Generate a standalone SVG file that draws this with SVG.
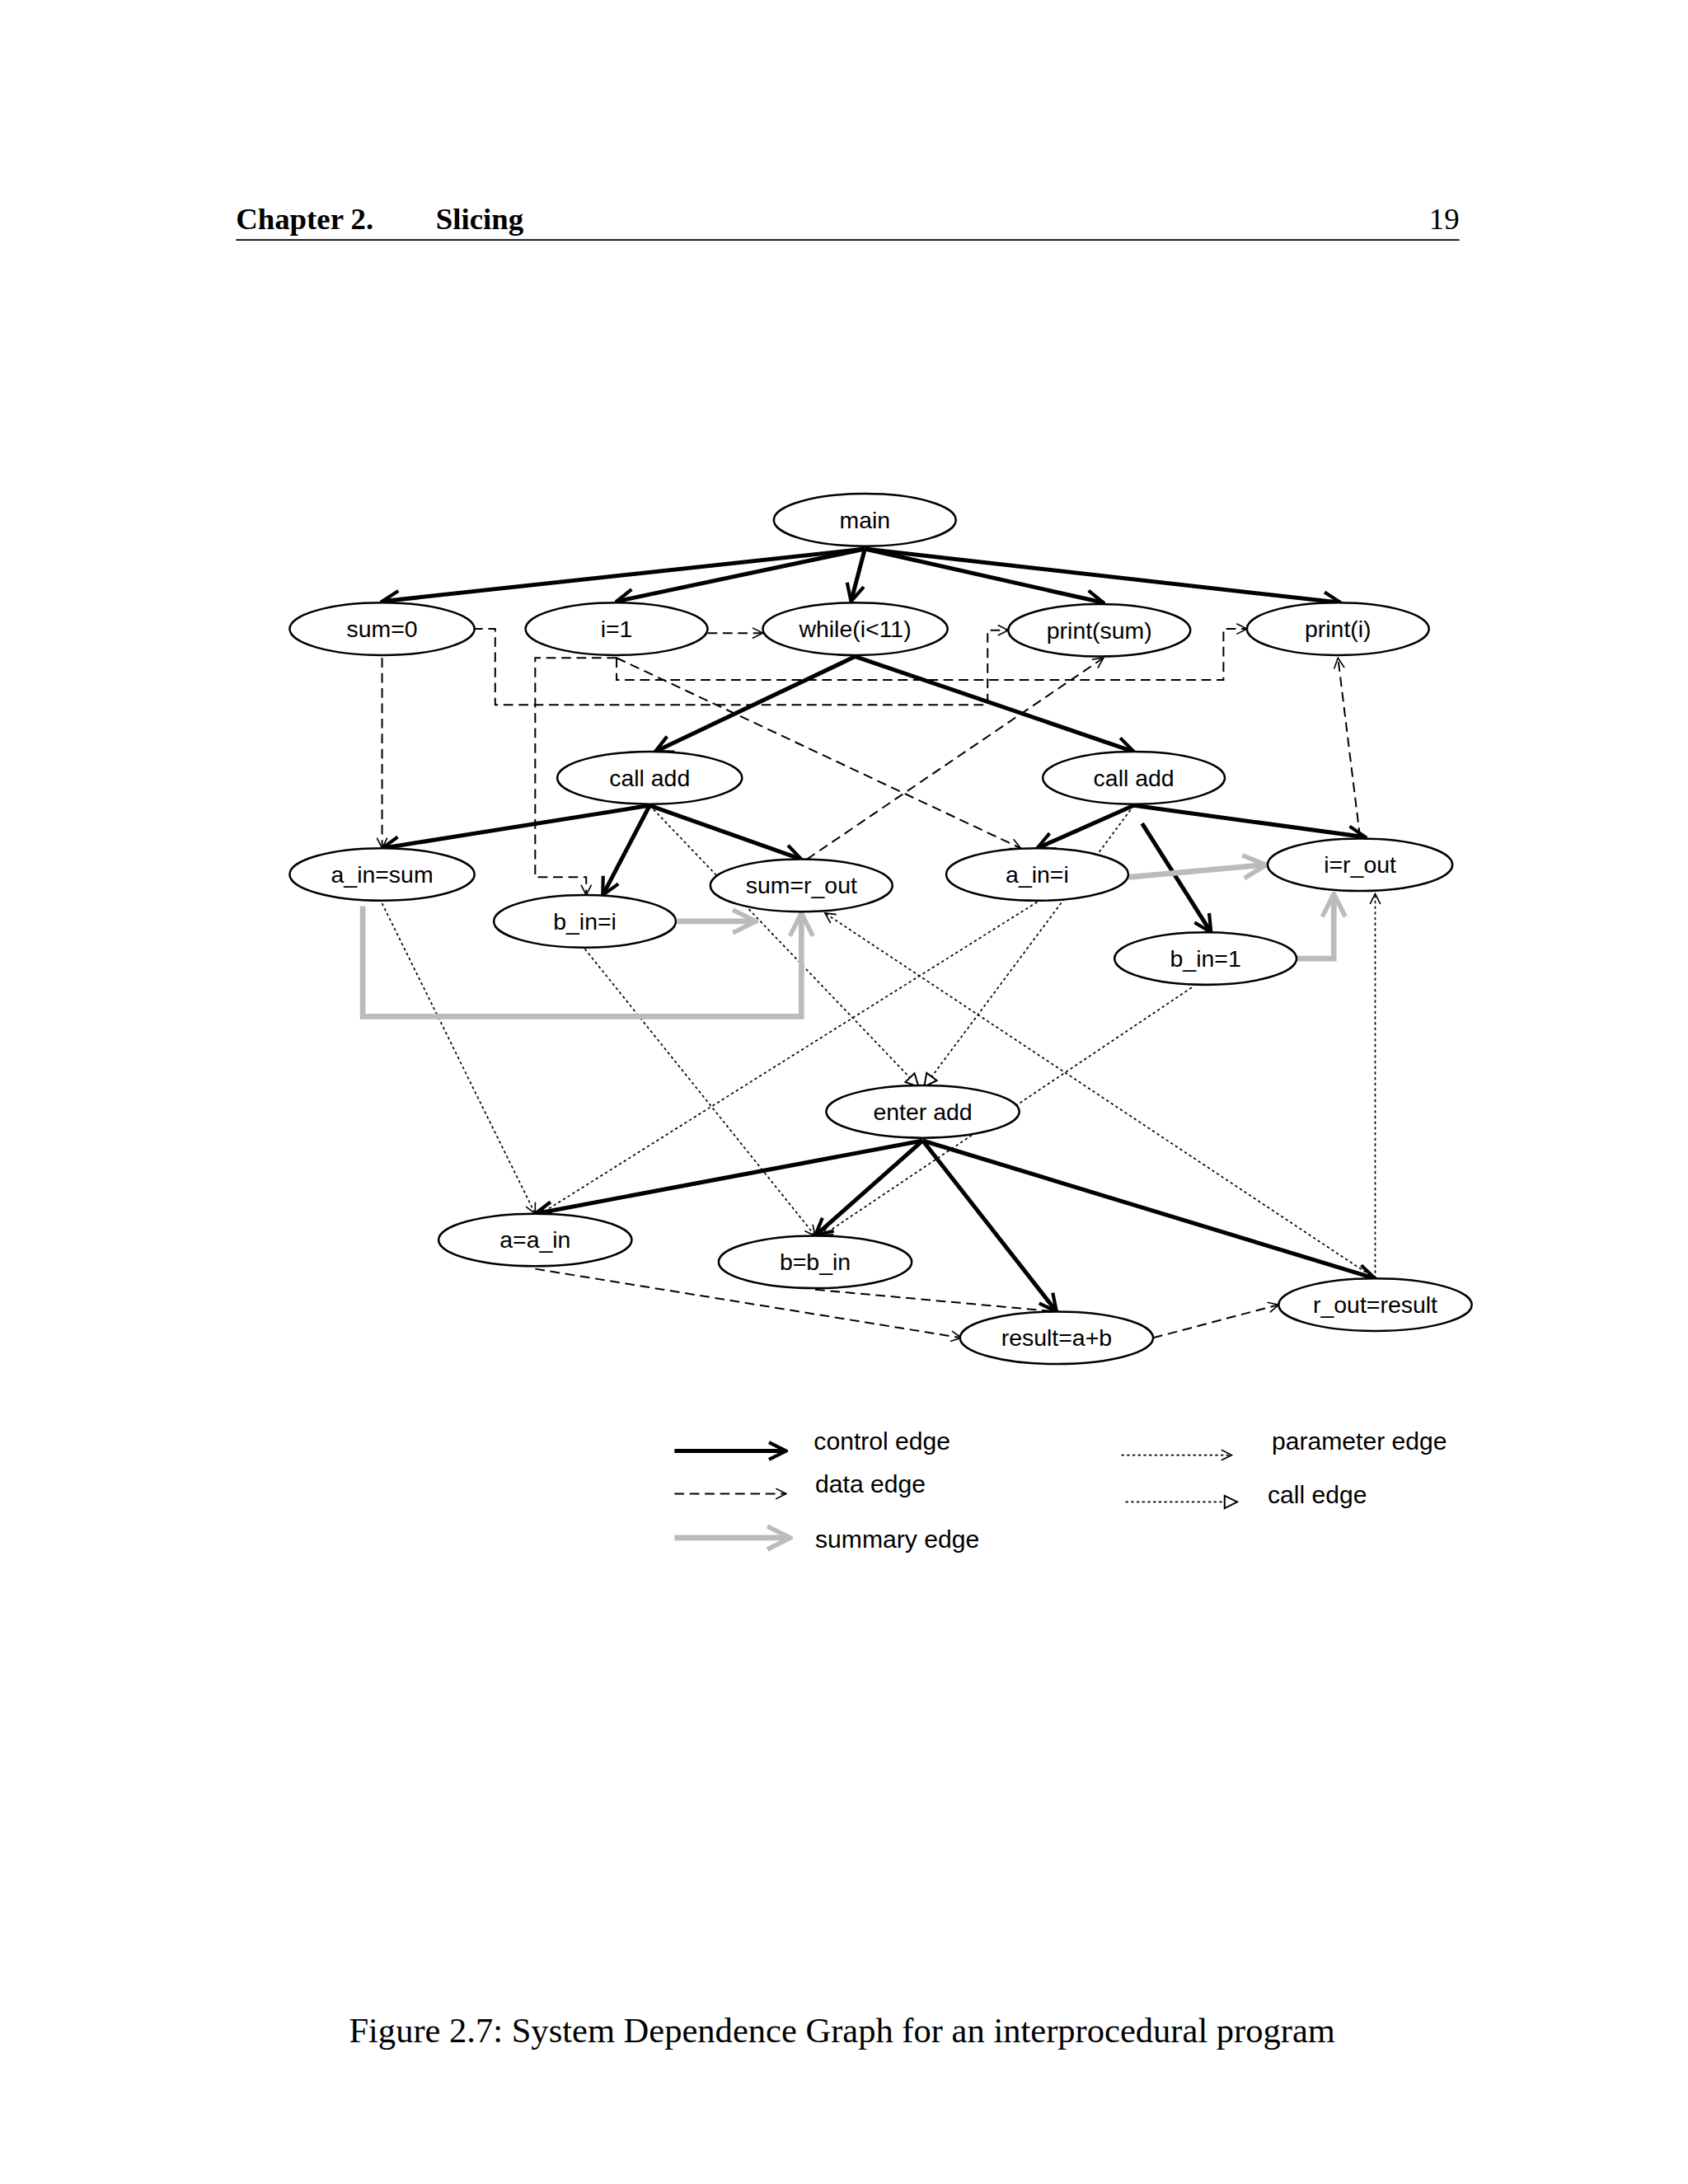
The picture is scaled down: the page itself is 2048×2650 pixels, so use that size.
<svg xmlns="http://www.w3.org/2000/svg" width="2048" height="2650" viewBox="0 0 2048 2650">
<defs>
<style>
.n ellipse{fill:#fff;stroke:#000;stroke-width:1.5}
.n text{font-family:"Liberation Sans",Arial,sans-serif;font-size:17px;text-anchor:middle;dominant-baseline:central}
.c{stroke:#000;stroke-width:3;fill:none;marker-end:url(#mc)}
.d{stroke:#000;stroke-width:1.2;fill:none;stroke-dasharray:7 4;marker-end:url(#mo)}
.p{stroke:#000;stroke-width:1;fill:none;stroke-dasharray:2 2;marker-end:url(#mo)}
.k{stroke:#000;stroke-width:1;fill:none;stroke-dasharray:2 2;marker-end:url(#mt)}
.s{stroke:#bbb;stroke-width:4;fill:none;marker-end:url(#ms)}
.lg{font-family:"Liberation Sans",Arial,sans-serif;font-size:18px}
</style>
<marker id="mc" viewBox="0 0 12 12" refX="11" refY="6" markerWidth="5" markerHeight="5" orient="auto" markerUnits="strokeWidth"><path d="M1,1 L11,6 L1,11" fill="none" stroke="#000" stroke-width="2"/></marker>
<marker id="mo" viewBox="0 0 12 12" refX="11" refY="6" markerWidth="9" markerHeight="9" orient="auto" markerUnits="userSpaceOnUse"><path d="M1,1 L11,6 L1,11" fill="none" stroke="#000" stroke-width="1.3"/></marker>
<marker id="mt" viewBox="0 0 12 12" refX="11" refY="6" markerWidth="11" markerHeight="11" orient="auto" markerUnits="userSpaceOnUse"><path d="M1,1 L11,6 L1,11 Z" fill="#fff" stroke="#000" stroke-width="1.3"/></marker>
<marker id="ms" viewBox="0 0 12 12" refX="11" refY="6" markerWidth="5" markerHeight="5" orient="auto" markerUnits="strokeWidth"><path d="M1,1 L11,6 L1,11" fill="none" stroke="#bbb" stroke-width="2"/></marker>
</defs>
<rect width="2048" height="2650" fill="#fff"/>
<g transform="scale(1.6735)">
<g id="header">
<text x="171" y="166" font-family="Liberation Serif,serif" font-weight="bold" font-size="22">Chapter 2.</text>
<text x="316" y="166" font-family="Liberation Serif,serif" font-weight="bold" font-size="22">Slicing</text>
<text x="1058" y="166" font-family="Liberation Serif,serif" font-size="22" text-anchor="end">19</text>
<line x1="171" y1="174" x2="1058" y2="174" stroke="#000" stroke-width="1"/>
</g>
<g id="edges">
<line class="c" x1="627" y1="398" x2="277" y2="436"/>
<line class="c" x1="627" y1="398" x2="447" y2="436"/>
<line class="c" x1="627" y1="398" x2="617" y2="436"/>
<line class="c" x1="627" y1="398" x2="800" y2="437"/>
<line class="c" x1="627" y1="398" x2="972" y2="437"/>
<line class="c" x1="620" y1="476" x2="475" y2="545"/>
<line class="c" x1="620" y1="476" x2="822" y2="545"/>
<line class="c" x1="471" y1="584" x2="277" y2="615"/>
<line class="c" x1="471" y1="584" x2="437" y2="649"/>
<line class="c" x1="471" y1="584" x2="581" y2="623"/>
<line class="c" x1="822" y1="584" x2="752" y2="615"/>
<line class="c" x1="822" y1="584" x2="990" y2="607"/>
<line class="c" x1="828" y1="597" x2="878" y2="676"/>
<line class="c" x1="669" y1="827" x2="388" y2="880"/>
<line class="c" x1="669" y1="827" x2="591" y2="896"/>
<line class="c" x1="669" y1="827" x2="766" y2="951"/>
<line class="c" x1="669" y1="827" x2="997" y2="927"/>
<line class="d" x1="513" y1="459" x2="553" y2="459"/>
<path class="d" d="M343,456 H359 V511 H716 V457 H731"/>
<path class="d" d="M447,477 V493 H887 V456 H904"/>
<path class="d" d="M447,477 H388 V636 H425 V649"/>
<line class="d" x1="447" y1="477" x2="740" y2="615"/>
<line class="d" x1="277" y1="477" x2="277" y2="615"/>
<line class="d" x1="585" y1="623" x2="800" y2="477"/>
<line class="d" x1="986" y1="607" x2="970" y2="477"/>
<line class="d" x1="388" y1="920" x2="697" y2="970"/>
<line class="d" x1="591" y1="935" x2="766" y2="951"/>
<line class="d" x1="836" y1="970" x2="927" y2="946"/>
<line class="p" x1="277" y1="655" x2="388" y2="880"/>
<line class="p" x1="424" y1="688" x2="591" y2="896"/>
<line class="p" x1="752" y1="654" x2="392" y2="880"/>
<line class="p" x1="864" y1="716" x2="596" y2="896"/>
<line class="p" x1="997" y1="927" x2="598" y2="662"/>
<line class="p" x1="997" y1="927" x2="997" y2="648"/>
<line class="k" x1="471" y1="584" x2="666" y2="788"/>
<line class="k" x1="822" y1="584" x2="670" y2="788"/>
<path class="s" d="M491,668 H548"/>
<path class="s" d="M263,657 V737 H581 V662"/>
<line class="s" x1="818" y1="636" x2="918" y2="627"/>
<path class="s" d="M940,695 H967 V648"/>
</g>
<g id="main" class="n"><ellipse cx="627" cy="377" rx="66" ry="19"/><text x="627" y="377">main</text></g>
<g id="sum0" class="n"><ellipse cx="277" cy="456" rx="67" ry="19"/><text x="277" y="456">sum=0</text></g>
<g id="i1" class="n"><ellipse cx="447" cy="456" rx="66" ry="19"/><text x="447" y="456">i=1</text></g>
<g id="while" class="n"><ellipse cx="620" cy="456" rx="67" ry="19"/><text x="620" y="456">while(i&lt;11)</text></g>
<g id="printsum" class="n"><ellipse cx="797" cy="457" rx="66" ry="19"/><text x="797" y="457">print(sum)</text></g>
<g id="printi" class="n"><ellipse cx="970" cy="456" rx="66" ry="19"/><text x="970" y="456">print(i)</text></g>
<g id="calladd1" class="n"><ellipse cx="471" cy="564" rx="67" ry="19"/><text x="471" y="564">call add</text></g>
<g id="calladd2" class="n"><ellipse cx="822" cy="564" rx="66" ry="19"/><text x="822" y="564">call add</text></g>
<g id="ainsum" class="n"><ellipse cx="277" cy="634" rx="67" ry="19"/><text x="277" y="634">a_in=sum</text></g>
<g id="bini" class="n"><ellipse cx="424" cy="668" rx="66" ry="19"/><text x="424" y="668">b_in=i</text></g>
<g id="sumrout" class="n"><ellipse cx="581" cy="642" rx="66" ry="19"/><text x="581" y="642">sum=r_out</text></g>
<g id="aini" class="n"><ellipse cx="752" cy="634" rx="66" ry="19"/><text x="752" y="634">a_in=i</text></g>
<g id="irout" class="n"><ellipse cx="986" cy="627" rx="67" ry="19"/><text x="986" y="627">i=r_out</text></g>
<g id="bin1" class="n"><ellipse cx="874" cy="695" rx="66" ry="19"/><text x="874" y="695">b_in=1</text></g>
<g id="enteradd" class="n"><ellipse cx="669" cy="806" rx="70" ry="19"/><text x="669" y="806">enter add</text></g>
<g id="aain" class="n"><ellipse cx="388" cy="899" rx="70" ry="19"/><text x="388" y="899">a=a_in</text></g>
<g id="bbin" class="n"><ellipse cx="591" cy="915" rx="70" ry="19"/><text x="591" y="915">b=b_in</text></g>
<g id="result" class="n"><ellipse cx="766" cy="970" rx="70" ry="19"/><text x="766" y="970">result=a+b</text></g>
<g id="rout" class="n"><ellipse cx="997" cy="946" rx="70" ry="19"/><text x="997" y="946">r_out=result</text></g>
<g id="legend">
<line class="c" x1="489" y1="1052" x2="570" y2="1052"/>
<text class="lg" x="590" y="1051">control edge</text>
<line class="d" x1="489" y1="1083" x2="570" y2="1083"/>
<text class="lg" x="591" y="1082">data edge</text>
<line class="s" x1="489" y1="1115" x2="573" y2="1115"/>
<text class="lg" x="591" y="1122">summary edge</text>
<line class="p" x1="813" y1="1055" x2="893" y2="1055"/>
<text class="lg" x="922" y="1051">parameter edge</text>
<line class="k" x1="816" y1="1089" x2="897" y2="1089"/>
<text class="lg" x="919" y="1090">call edge</text>
</g>
<text x="253" y="1481" font-family="Liberation Serif,serif" font-size="25" textLength="715" lengthAdjust="spacingAndGlyphs">Figure 2.7: System Dependence Graph for an interprocedural program</text>
</g>
</svg>
